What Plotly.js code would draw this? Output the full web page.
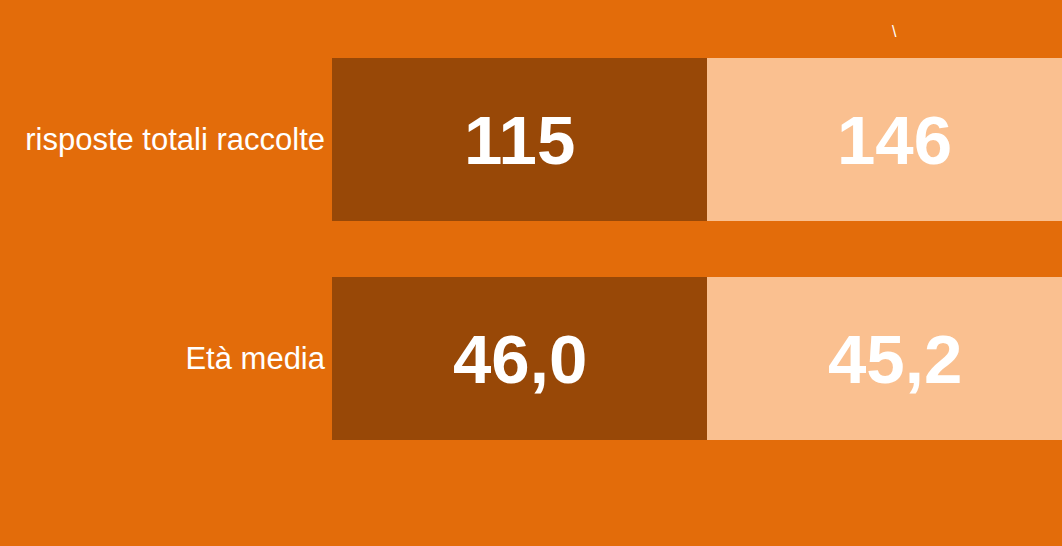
<!DOCTYPE html>
<html>
<head>
<meta charset="utf-8">
<script src="https://cdn.plot.ly/plotly-3.0.1.min.js"></script>
<style>
  html, body { margin: 0; padding: 0; background: #E36C0A; }
  #chart { width: 1062px; height: 546px; }
</style>
</head>
<body>
<div id="chart"></div>
<script>
// rows, top to bottom
const categories = ['risposte totali raccolte', 'Età media'];
// value printed in each half of the bar
const groupA = [115, 46.0];
const groupB = [146, 45.2];
const decimals = [0, 1];
// each half is drawn with the same width
const segA = [1, 1];
const segB = [1, 1];

const fmt = (v, d) => v.toFixed(d).replace('.', ',');

const darkCol = '#984807';
const lightCol = '#FAC090';
const bgCol = '#E36C0A';

const traces = [
    {
        type: 'bar', orientation: 'h',
        y: categories, x: segA,
        marker: { color: darkCol },
        hoverinfo: 'skip', showlegend: false
    },
    {
        type: 'bar', orientation: 'h',
        y: categories, x: segB,
        marker: { color: lightCol },
        hoverinfo: 'skip', showlegend: false
    }
];

// value labels centred on each segment
const annotations = [];
categories.forEach((c, i) => {
    annotations.push({
        x: segA[i] / 2, y: c, xref: 'x', yref: 'y',
        text: fmt(groupA[i], decimals[i]), showarrow: false, yshift: -1,
        font: { family: 'Liberation Sans, Arial, sans-serif', size: 69, color: '#ffffff', weight: 'bold' }
    });
    annotations.push({
        x: segA[i] + segB[i] / 2, y: c, xref: 'x', yref: 'y',
        text: fmt(groupB[i], decimals[i]), showarrow: false, yshift: -1,
        font: { family: 'Liberation Sans, Arial, sans-serif', size: 69, color: '#ffffff', weight: 'bold' }
    });
});
// stray mark left over from the legend area
annotations.push({
    x: segA[0] + segB[0] / 2, y: 1, xref: 'x', yref: 'paper', yanchor: 'bottom', yshift: -12,
    text: '\\', showarrow: false,
    font: { family: 'Liberation Sans, Arial, sans-serif', size: 16, color: '#ffffff' }
});

const layout = {
    width: 1062, height: 546,
    paper_bgcolor: bgCol, plot_bgcolor: bgCol,
    margin: { l: 332, r: 0, t: 30, b: 78 },
    barmode: 'stack',
    bargap: 0.256,
    xaxis: {
        range: [0, 730 / 375],
        visible: false, fixedrange: true
    },
    yaxis: {
        autorange: 'reversed',
        showgrid: false, zeroline: false, showline: false,
        ticks: '', ticklabelstandoff: 6,
        tickfont: { family: 'Liberation Sans, Arial, sans-serif', size: 31, color: '#ffffff' }
    },
    annotations: annotations
};

Plotly.newPlot('chart', traces, layout, { staticPlot: true });
</script>
</body>
</html>
